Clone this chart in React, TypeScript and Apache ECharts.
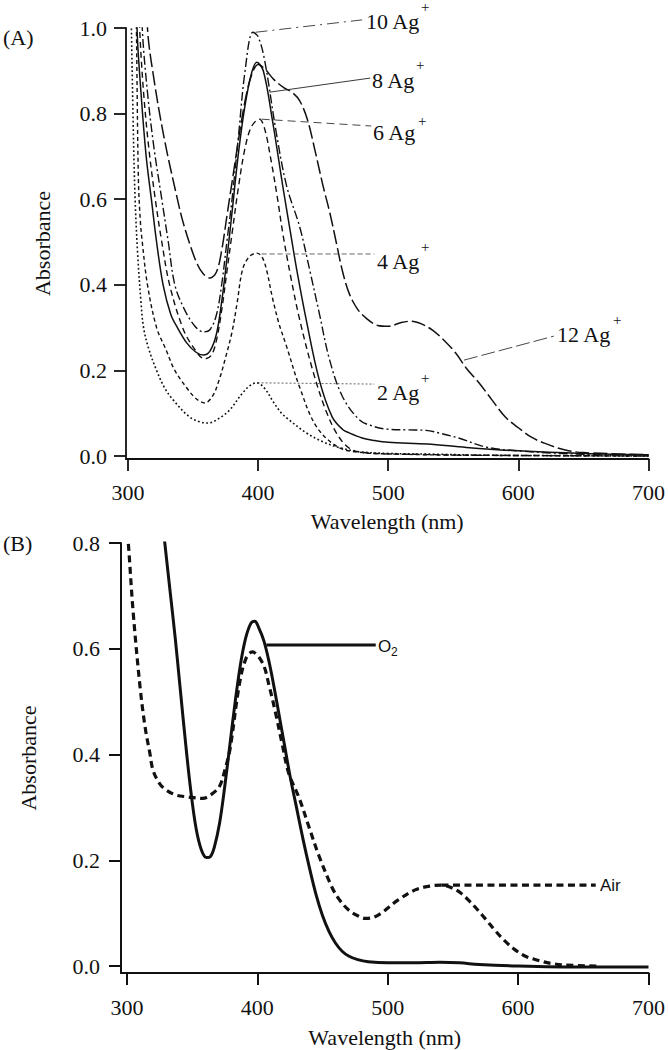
import React, { useEffect, useRef } from "react";
import * as echarts from "echarts";

const SERIF = "'Liberation Serif', 'Times New Roman', serif";
const SANS = "'Liberation Sans', Arial, sans-serif";
const INK = "#111";

// ---------- Panel (A) data : wavelength (nm) / absorbance ----------
const ag2Wl = [300, 302, 304, 305.5, 307.5, 310, 312, 316, 322, 328, 335, 347, 355, 362, 370, 378, 388, 394, 399, 405, 412, 418, 424, 437, 450, 462, 478, 500, 540, 570, 620, 700];
const ag2Abs = [2.0, 1.15, 0.78, 0.6, 0.47, 0.36, 0.3, 0.25, 0.2, 0.16, 0.13, 0.092, 0.08, 0.077, 0.088, 0.107, 0.147, 0.165, 0.171, 0.158, 0.125, 0.1, 0.084, 0.054, 0.033, 0.02, 0.01, 0.006, 0.004, 0.002, 0.001, 0];

const ag4Wl = [300, 305, 306.5, 308, 309.5, 311, 315, 322, 329, 336, 345, 352, 359, 365, 370, 375, 380, 384, 388, 393, 399, 403, 406.5, 411, 416, 422, 432, 445, 462, 480, 500, 550, 700];
const ag4Abs = [4.0, 1.3, 1.0, 0.65, 0.55, 0.5, 0.4, 0.3, 0.25, 0.2, 0.16, 0.135, 0.124, 0.14, 0.177, 0.23, 0.29, 0.36, 0.435, 0.465, 0.474, 0.465, 0.435, 0.37, 0.31, 0.255, 0.16, 0.068, 0.02, 0.008, 0.005, 0.002, 0];

const ag6Wl = [300, 306, 309, 312, 316, 321, 326, 332, 342, 350, 359, 364, 368, 372, 376, 380, 385, 390, 395, 401, 405, 410, 415, 419, 425, 432, 442, 452, 462, 472, 490, 520, 560, 700];
const ag6Abs = [3.0, 1.3, 1.0, 0.85, 0.72, 0.6, 0.5, 0.4, 0.3, 0.255, 0.227, 0.235, 0.27, 0.34, 0.43, 0.52, 0.63, 0.72, 0.77, 0.787, 0.765, 0.69, 0.6, 0.52, 0.42, 0.318, 0.2, 0.107, 0.045, 0.015, 0.006, 0.004, 0.002, 0];

const ag8Wl = [300, 305, 307, 310, 314, 318, 322, 327, 333, 338, 345, 352, 358, 363, 368, 372, 376, 380, 385, 390, 395, 399, 404, 411, 419, 425, 430, 437, 447, 457, 465, 470, 480, 488, 500, 530, 560, 600, 650, 700];
const ag8Abs = [3.0, 1.4, 1.0, 0.85, 0.7, 0.6, 0.5, 0.4, 0.33, 0.3, 0.265, 0.243, 0.236, 0.245, 0.285, 0.36, 0.46, 0.57, 0.71, 0.82, 0.895, 0.92, 0.9, 0.785, 0.63, 0.52, 0.43, 0.318, 0.178, 0.091, 0.062, 0.054, 0.042, 0.037, 0.032, 0.028, 0.02, 0.012, 0.006, 0.003];

const ag10Wl = [300, 308, 311, 315, 320, 326, 331, 336, 343, 351, 358, 363, 368, 372, 376, 380, 385, 390, 396, 400, 405, 414, 422, 432, 440, 447, 455, 465, 478, 488, 498, 515, 529, 540, 554, 575, 600, 650, 700];
const ag10Abs = [3.0, 1.3, 1.0, 0.85, 0.72, 0.6, 0.5, 0.4, 0.345, 0.305, 0.29, 0.295, 0.33, 0.4, 0.5, 0.6, 0.75, 0.9, 0.99, 0.98, 0.925, 0.755, 0.63, 0.535, 0.43, 0.334, 0.224, 0.138, 0.084, 0.07, 0.063, 0.061, 0.06, 0.053, 0.042, 0.021, 0.012, 0.004, 0.002];

const ag12Wl = [300, 312, 315, 320, 328, 338, 342, 347, 353, 358, 363, 368, 372, 376, 380, 385, 390, 395, 400, 405, 412, 420, 426, 432, 438, 444, 450, 455, 460, 465, 470, 476, 483, 492, 500, 510, 518, 526, 534, 543, 552, 560, 570, 580, 590, 600, 610, 620, 636, 650, 700];
const ag12Abs = [3.0, 1.3, 1.0, 0.88, 0.74, 0.6, 0.55, 0.5, 0.45, 0.425, 0.416, 0.43, 0.48, 0.56, 0.64, 0.74, 0.83, 0.89, 0.915, 0.905, 0.88, 0.86, 0.85, 0.83, 0.785, 0.71, 0.63, 0.57, 0.5, 0.43, 0.38, 0.345, 0.322, 0.305, 0.303, 0.312, 0.315, 0.308, 0.294, 0.27, 0.24, 0.205, 0.17, 0.13, 0.091, 0.066, 0.044, 0.03, 0.014, 0.008, 0.003];

// ---------- Panel (B) data ----------
const o2Wl = [325, 329, 333, 337, 341, 345, 349, 353, 357, 361, 364, 367, 371, 375, 379, 383, 387, 391, 395, 398, 401, 405, 409, 413, 417, 421, 425, 430, 435, 440, 445, 450, 455, 460, 465, 470, 477, 485, 500, 520, 540, 555, 570, 600, 650, 700];
const o2Abs = [0.89, 0.8, 0.71, 0.62, 0.52, 0.42, 0.33, 0.26, 0.22, 0.205, 0.207, 0.225, 0.27, 0.34, 0.42, 0.5, 0.57, 0.62, 0.648, 0.652, 0.64, 0.615, 0.575, 0.525, 0.47, 0.415, 0.36, 0.3, 0.24, 0.185, 0.135, 0.095, 0.065, 0.043, 0.028, 0.019, 0.012, 0.008, 0.006, 0.006, 0.007, 0.006, 0.003, 0.0, -0.002, -0.002];

const airWl = [300, 301, 304.6, 310, 314, 317.5, 320, 325, 330, 338, 346, 358, 365, 371, 375, 379, 386, 391, 396, 404, 409, 414, 419, 424, 432, 440, 447, 457, 463, 470, 477, 483, 489, 495, 508, 521, 532, 541, 549, 556, 563, 569, 576, 582, 590, 598, 606, 615, 625, 636, 660];
const airAbs = [0.82, 0.8, 0.673, 0.528, 0.45, 0.403, 0.37, 0.345, 0.333, 0.323, 0.32, 0.317, 0.325, 0.34, 0.37, 0.41, 0.53, 0.58, 0.594, 0.573, 0.53, 0.478, 0.42, 0.365, 0.318, 0.26, 0.21, 0.15, 0.125, 0.106, 0.095, 0.09, 0.092, 0.1, 0.125, 0.144, 0.151, 0.153, 0.148, 0.138, 0.122, 0.106, 0.086, 0.068, 0.047, 0.03, 0.018, 0.011, 0.005, 0.002, 0.0];

// Leader lines (annotation endpoints, data coordinates)
const leaderAg10 = [[398, 0.99], [480, 1.019]];
const leaderAg8 = [[408.8, 0.85], [486.2, 0.883]];
const leaderAg6 = [[402.7, 0.787], [487, 0.771]];
const leaderAg4 = [[402.7, 0.472], [489.3, 0.472]];
const leaderAg2 = [[399.6, 0.171], [489.3, 0.168]];
const leaderAg12 = [[558.2, 0.224], [627.2, 0.28]];
const leaderO2 = [[406.9, 0.607], [490.8, 0.607]];
const leaderAir = [[541.2, 0.153], [659.5, 0.153]];

// Ticks
const xTicks = [300, 400, 500, 600, 700];
const yTicksA = [0, 0.2, 0.4, 0.6, 0.8, 1.0];
const yTicksB = [0, 0.2, 0.4, 0.6, 0.8];

const zip = (xs: number[], ys: number[]) => xs.map((x, i) => [x, ys[i]]);

export default function App() {
  const ref = useRef<HTMLDivElement>(null);
  useEffect(() => {
    if (!ref.current) return;
    const chart = echarts.init(ref.current, null, { renderer: "svg" });

    const curve = (name: string, xs: number[], ys: number[], type: any, width: number, g: number) => ({
      name,
      type: "line",
      xAxisIndex: g,
      yAxisIndex: g,
      data: zip(xs, ys),
      symbol: "none",
      showSymbol: false,
      smooth: 0.35,
      clip: true,
      silent: true,
      lineStyle: { color: INK, width, type, cap: "butt", join: "round" },
    });
    const leader = (name: string, pts: number[][], type: any, width: number, color: string, g: number) => ({
      name,
      type: "line",
      xAxisIndex: g,
      yAxisIndex: g,
      data: pts,
      symbol: "none",
      showSymbol: false,
      smooth: false,
      clip: false,
      silent: true,
      lineStyle: { color, width, type },
    });

    const xAxisCfg = (g: number, min: number, lw: number, margin: number, gap: number) => ({
      gridIndex: g,
      type: "value",
      min,
      max: 700,
      axisLine: { show: true, onZero: false, lineStyle: { color: INK, width: lw } },
      axisTick: { show: true, inside: false, length: 12, customValues: xTicks, lineStyle: { color: INK, width: lw } },
      axisLabel: { customValues: xTicks, margin, fontSize: 22, fontFamily: SERIF, color: INK },
      splitLine: { show: false },
      name: "Wavelength (nm)",
      nameLocation: "middle",
      nameGap: gap,
      nameTextStyle: { fontSize: 22, fontFamily: SERIF, color: INK },
    });
    const yAxisCfg = (g: number, min: number, max: number, ticks: number[], lw: number, margin: number, gap: number) => ({
      gridIndex: g,
      type: "value",
      min,
      max,
      axisLine: { show: true, onZero: false, lineStyle: { color: INK, width: lw } },
      axisTick: { show: true, inside: false, length: 12, customValues: ticks, lineStyle: { color: INK, width: lw } },
      axisLabel: {
        customValues: ticks,
        margin,
        fontSize: 22,
        fontFamily: SERIF,
        color: INK,
        formatter: (v: number) => v.toFixed(1),
      },
      splitLine: { show: false },
      name: "Absorbance",
      nameLocation: "middle",
      nameGap: gap,
      nameRotate: 90,
      nameTextStyle: { fontSize: 22, fontFamily: SERIF, color: INK },
    });

    const txt = (x: number, y: number, text: string, size: number, family: string) => ({
      type: "text",
      x,
      y,
      silent: true,
      style: { text, fontSize: size, fontFamily: family, fill: INK, align: "left", verticalAlign: "middle" },
    });

    chart.setOption({
      animation: false,
      backgroundColor: "#fff",
      grid: [
        { left: 126, top: 28, width: 524, height: 431, containLabel: false },
        { left: 121, top: 543, width: 530, height: 430, containLabel: false },
      ],
      xAxis: [xAxisCfg(0, 298.5, 1.8, 22, 51), xAxisCfg(1, 295.4, 2, 23, 53)],
      yAxis: [yAxisCfg(0, -0.007, 1.0, yTicksA, 1.8, 19, 73), yAxisCfg(1, -0.0132, 0.8, yTicksB, 2, 21, 82)],
      series: [
        curve("2 Ag+", ag2Wl, ag2Abs, [1.8, 2.4], 1.6, 0),
        curve("4 Ag+", ag4Wl, ag4Abs, [4, 3], 1.4, 0),
        curve("6 Ag+", ag6Wl, ag6Abs, [6, 4], 1.4, 0),
        curve("8 Ag+", ag8Wl, ag8Abs, "solid", 1.5, 0),
        curve("10 Ag+", ag10Wl, ag10Abs, [9, 3, 2, 3], 1.4, 0),
        curve("12 Ag+", ag12Wl, ag12Abs, [14, 4], 1.5, 0),
        leader("L10", leaderAg10, [12, 5, 2, 5], 0.9, "#333", 0),
        leader("L8", leaderAg8, "solid", 0.9, "#222", 0),
        leader("L6", leaderAg6, [8, 5], 0.9, "#333", 0),
        leader("L4", leaderAg4, [5, 3], 0.9, "#555", 0),
        leader("L2", leaderAg2, [2, 2], 0.9, "#555", 0),
        leader("L12", leaderAg12, [14, 4], 0.9, "#333", 0),
        curve("O2", o2Wl, o2Abs, "solid", 3, 1),
        curve("Air", airWl, airAbs, [7, 4.5], 3.2, 1),
        leader("LO2", leaderO2, "solid", 3, INK, 1),
        leader("LAir", leaderAir, [7, 4.5], 3.2, INK, 1),
      ],
      graphic: [
        txt(3, 37, "(A)", 22, SERIF),
        txt(3, 543, "(B)", 22, SERIF),
        txt(366, 21, "10 Ag", 22, SERIF),
        txt(421, 7, "+", 15, SERIF),
        txt(372, 80, "8 Ag", 22, SERIF),
        txt(416, 65, "+", 15, SERIF),
        txt(373, 132, "6 Ag", 22, SERIF),
        txt(418, 121, "+", 15, SERIF),
        txt(377, 261, "4 Ag", 22, SERIF),
        txt(421, 247, "+", 15, SERIF),
        txt(377, 392, "2 Ag", 22, SERIF),
        txt(421, 378, "+", 15, SERIF),
        txt(557, 334, "12 Ag", 22, SERIF),
        txt(613, 320, "+", 15, SERIF),
        txt(378, 646, "O", 17, SANS),
        txt(391, 652, "2", 12, SANS),
        txt(600, 885, "Air", 17, SANS),
      ],
    });
    return () => chart.dispose();
  }, []);
  return (
    <div
      ref={ref}
      style={{ position: "fixed", left: 0, top: 0, width: 668, height: 1050, background: "#fff" }}
    />
  );
}
